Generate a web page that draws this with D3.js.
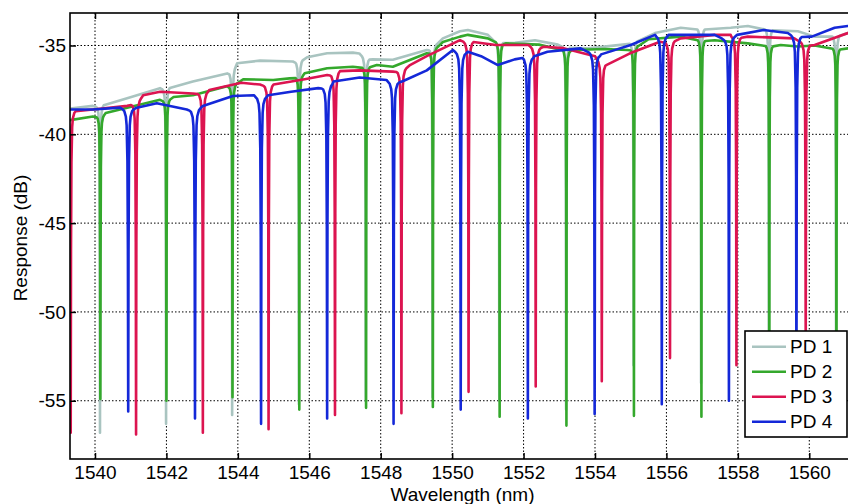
<!DOCTYPE html>
<html>
<head>
<meta charset="utf-8">
<script src="https://cdn.jsdelivr.net/npm/d3@7"></script>
<style>
  body { margin: 0; background: #fff; }
  svg { display: block; font-family: "Liberation Sans", Arial, sans-serif; }
</style>
</head>
<body>
<svg id="chart" width="848" height="504"></svg>
<script>
// tick values
const xTicks = [1540, 1542, 1544, 1546, 1548, 1550, 1552, 1554, 1556, 1558, 1560];
const yTicks = [-55, -50, -45, -40, -35];
const seriesNames = ['PD 1', 'PD 2', 'PD 3', 'PD 4'];

// baseline (off-resonance) response, [wavelength nm, dB]
const pd1Base = [[1539.0,-38.6],[1539.3,-38.55],[1539.94,-38.4],[1540.9,-37.97],[1541.82,-37.4],[1542.74,-37.03],[1543.7,-36.57],
  [1543.98,-36.0],[1544.62,-35.85],[1545.54,-35.9],[1545.94,-35.66],[1546.5,-35.44],[1547.22,-35.4],[1547.4,-35.45],
  [1547.78,-35.78],[1548.34,-35.8],[1549.29,-35.25],[1549.74,-34.6],[1550.22,-34.2],[1550.44,-34.13],[1551.0,-34.4],
  [1551.15,-34.7],[1551.76,-34.85],[1552.32,-34.7],[1552.96,-34.95],[1553.8,-35.16],[1555.0,-34.8],[1555.68,-34.3],
  [1556.4,-34.0],[1557.8,-34.0],[1558.28,-33.9],[1559.68,-34.2],[1560.15,-34.5],[1561.08,-34.3],[1561.4,-34.3]];
const pd2Base = [[1539.0,-39.25],[1539.3,-39.2],[1539.94,-39.0],[1540.3,-38.8],[1540.9,-38.5],[1541.82,-38.06],[1542.2,-37.9],
  [1542.74,-37.8],[1543.7,-37.3],[1544.15,-36.9],[1544.99,-36.94],[1545.45,-36.85],[1545.87,-36.56],[1546.5,-36.28],
  [1547.22,-36.2],[1547.89,-36.1],[1548.34,-36.2],[1549.29,-35.44],[1549.74,-34.8],[1550.22,-34.5],[1550.44,-34.4],
  [1551.0,-34.6],[1551.5,-34.88],[1552.43,-34.95],[1553.35,-35.25],[1554.29,-35.2],[1554.9,-35.25],[1555.5,-34.65],
  [1556.4,-34.5],[1557.35,-34.7],[1558.28,-34.88],[1559.2,-34.97],[1559.68,-35.06],[1560.15,-35.0],[1561.08,-35.16],[1561.4,-35.16]];
const pd3Base = [[1539.0,-38.6],[1539.94,-38.6],[1540.9,-38.4],[1541.35,-37.8],[1541.82,-37.6],[1542.74,-37.7],[1543.2,-37.5],
  [1544.1,-37.1],[1544.62,-37.2],[1545.0,-37.1],[1545.87,-36.9],[1546.5,-36.66],[1546.85,-36.34],[1547.41,-36.4],
  [1548.34,-36.47],[1548.82,-36.1],[1549.29,-35.6],[1550.22,-34.7],[1550.6,-34.7],[1551.22,-34.97],[1552.14,-34.97],
  [1552.56,-35.07],[1553.12,-35.15],[1554.0,-35.6],[1554.34,-36.0],[1554.98,-35.44],[1555.82,-34.79],[1556.4,-34.6],
  [1557.35,-34.4],[1557.8,-34.4],[1558.28,-34.5],[1559.58,-34.6],[1560.15,-34.97],[1561.08,-34.3],[1561.4,-34.2]];
const pd4Base = [[1539.0,-38.6],[1539.94,-38.6],[1540.7,-38.5],[1541.17,-38.5],[1541.73,-38.25],[1542.57,-38.6],[1543.02,-38.4],
  [1543.86,-37.84],[1544.45,-37.8],[1544.85,-37.8],[1545.49,-37.6],[1546.25,-37.4],[1546.68,-37.03],[1547.41,-36.8],
  [1548.16,-36.94],[1548.63,-37.0],[1549.29,-36.4],[1550.02,-35.25],[1550.44,-35.35],[1550.81,-35.6],[1551.28,-36.1],
  [1551.75,-35.78],[1551.95,-35.6],[1552.3,-35.6],[1552.67,-35.35],[1553.6,-35.16],[1554.17,-35.5],[1555.0,-34.97],
  [1555.68,-34.4],[1556.06,-34.4],[1557.35,-34.4],[1557.55,-34.6],[1557.98,-34.4],[1558.72,-34.13],[1559.4,-34.3],
  [1560.07,-34.5],[1560.71,-34.0],[1561.08,-33.9],[1561.4,-33.9]];

// resonance dips, [centre nm, minimum dB]
const pd1Dips = [[1540.14,-56.8],[1541.99,-56.3],[1543.84,-55.8],[1545.71,-55.2],[1547.58,-55.0],[1549.45,-54.8],
  [1551.32,-55.0],[1553.19,-55.5],[1555.08,-53.0],[1556.97,-54.0],[1558.87,-54.0],[1560.75,-54.0]];
const pd2Dips = [[1540.15,-54.9],[1542.0,-55.0],[1543.85,-54.8],[1545.72,-55.5],[1547.59,-55.4],[1549.46,-55.35],
  [1551.33,-55.9],[1553.2,-56.4],[1555.09,-55.85],[1556.98,-55.9],[1558.88,-55.8],[1560.76,-55.5]];
const pd3Dips = [[1539.32,-56.8],[1541.15,-56.9],[1543.02,-56.8],[1544.86,-56.6],[1546.72,-55.8],[1548.58,-55.7],
  [1550.46,-54.5],[1552.34,-54.2],[1554.19,-53.9],[1556.1,-52.6],[1557.96,-53.0],[1559.9,-52.0]];
const pd4Dips = [[1540.93,-55.6],[1542.8,-56.0],[1544.65,-56.3],[1546.5,-56.0],[1548.36,-56.3],[1550.24,-55.5],
  [1552.12,-56.0],[1553.99,-55.75],[1555.87,-55.2],[1557.75,-55.0],[1559.64,-55.0]];

// dip profile: offset from centre (nm) and drop below baseline (dB)
const dipOffsets = [-0.14, -0.1, -0.06, -0.04, -0.02, -0.008, 0, 0.008, 0.02, 0.04, 0.06, 0.1, 0.14];
const dipDrops = [0.1, 0.2, 0.5, 1.0, 3.0, 8.0, null, 8.0, 3.0, 1.0, 0.5, 0.2, 0.1];

const colors = ['#a9c4c0', '#34a82c', '#dc1450', '#1428d8'];
const dipWidth = [0.75, 0.75, 1.0, 1.1];

const margin = { left: 70, top: 13, right: 855, bottom: 459 };
const svg = d3.select('#chart');

const x = d3.scaleLinear().domain([1539.3, 1561.28]).range([margin.left, margin.right]);
const y = d3.scaleLinear().domain([-58.28, -33.17]).range([margin.bottom, margin.top]);

// merge baseline and dips into one trace
function buildTrace(base, dips, w) {
  const baseAt = d3.scaleLinear().domain(base.map(d => d[0])).range(base.map(d => d[1]));
  const pts = base.filter(([l]) => !dips.some(([c]) => Math.abs(l - c) < 0.16 * w)).map(d => [d[0], d[1]]);
  dips.forEach(([c, m]) => {
    const depth = baseAt(c) - m;
    dipOffsets.forEach((o, i) => {
      const l = c + o * w;
      const drop = dipDrops[i] === null ? depth : Math.min(dipDrops[i], depth * 0.9);
      pts.push([l, baseAt(l) - drop]);
    });
  });
  return pts.sort((a, b) => a[0] - b[0]);
}

const traces = [
  buildTrace(pd1Base, pd1Dips, dipWidth[0]),
  buildTrace(pd2Base, pd2Dips, dipWidth[1]),
  buildTrace(pd3Base, pd3Dips, dipWidth[2]),
  buildTrace(pd4Base, pd4Dips, dipWidth[3])
];

svg.append('defs').append('clipPath').attr('id', 'plot-clip')
  .append('rect')
  .attr('x', margin.left).attr('y', margin.top)
  .attr('width', margin.right - margin.left).attr('height', margin.bottom - margin.top);

// grid
const grid = svg.append('g').attr('stroke', '#000').attr('stroke-width', 1).attr('stroke-dasharray', '1.5,2');
grid.selectAll('.gx').data(xTicks).enter().append('line')
  .attr('x1', d => x(d)).attr('x2', d => x(d))
  .attr('y1', margin.top).attr('y2', margin.bottom);
grid.selectAll('.gy').data(yTicks).enter().append('line')
  .attr('x1', margin.left).attr('x2', margin.right)
  .attr('y1', d => y(d)).attr('y2', d => y(d));

// traces
const line = d3.line().x(d => x(d[0])).y(d => y(d[1]));
svg.append('g').attr('clip-path', 'url(#plot-clip)')
  .selectAll('path').data(traces).enter().append('path')
  .attr('d', line)
  .attr('fill', 'none')
  .attr('stroke', (d, i) => colors[i])
  .attr('stroke-width', 2.6)
  .attr('stroke-linejoin', 'round');

// axes
const fontSize = 19;
const xAxis = svg.append('g').attr('transform', `translate(0,${margin.bottom})`)
  .call(d3.axisBottom(x).tickValues(xTicks).tickSizeInner(-6).tickSizeOuter(0).tickPadding(7).tickFormat(d => String(d)));
const xAxisTop = svg.append('g').attr('transform', `translate(0,${margin.top})`)
  .call(d3.axisTop(x).tickValues(xTicks).tickSizeInner(-6).tickSizeOuter(0).tickFormat(''));
const yAxis = svg.append('g').attr('transform', `translate(${margin.left},0)`)
  .call(d3.axisLeft(y).tickValues(yTicks).tickSizeInner(-6).tickSizeOuter(0).tickPadding(4).tickFormat(d => String(d)));

[xAxis, xAxisTop, yAxis].forEach(a => {
  a.select('.domain').remove();
  a.selectAll('.tick line').attr('stroke', '#000').attr('stroke-width', 1.5);
  a.selectAll('.tick text').attr('fill', '#000').style('font-size', fontSize + 'px')
    .style('font-family', '"Liberation Sans", Arial, sans-serif');
});

// box
svg.append('rect')
  .attr('x', margin.left).attr('y', margin.top)
  .attr('width', margin.right - margin.left).attr('height', margin.bottom - margin.top)
  .attr('fill', 'none').attr('stroke', '#000').attr('stroke-width', 1.6);

// axis labels
svg.append('text')
  .attr('x', (margin.left + margin.right) / 2).attr('y', 501)
  .attr('text-anchor', 'middle').style('font-size', fontSize + 'px')
  .text('Wavelength (nm)');
svg.append('text')
  .attr('transform', `translate(27,${(margin.top + margin.bottom) / 2 + 2}) rotate(-90)`)
  .attr('text-anchor', 'middle').style('font-size', fontSize + 'px')
  .text('Response (dB)');

// legend
const legend = svg.append('g');
legend.append('rect')
  .attr('x', 745).attr('y', 331).attr('width', 102).attr('height', 106)
  .attr('fill', '#fff').attr('stroke', '#000').attr('stroke-width', 1.6);
seriesNames.forEach((name, i) => {
  const ly = 346.7 + i * 25;
  legend.append('line')
    .attr('x1', 752).attr('x2', 786).attr('y1', ly).attr('y2', ly)
    .attr('stroke', colors[i]).attr('stroke-width', 2.6);
  legend.append('text')
    .attr('x', 790).attr('y', ly + 6.5)
    .style('font-size', fontSize + 'px')
    .text(name);
});
</script>
</body>
</html>
